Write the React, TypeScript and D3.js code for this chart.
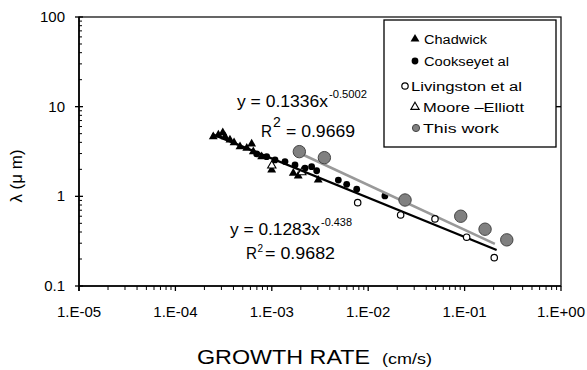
import React from 'react';
import * as d3 from 'd3';

// growth rate (cm/s), lambda (um)
const chadwick: [number, number][] = [
  [2.47e-4, 4.63], [2.79e-4, 4.84], [3.1e-4, 5.13], [3.27e-4, 4.63], [3.68e-4, 4.25],
  [4.06e-4, 3.97], [4.68e-4, 3.58], [5.5e-4, 3.44], [6.18e-4, 3.84], [6.43e-4, 3.15],
  [7.85e-4, 2.77], [9.97e-4, 1.97], [1.67e-3, 1.81], [1.88e-3, 1.69], [3.03e-3, 1.52],
];
const cooksey: [number, number][] = [
  [6.97e-4, 2.97], [8.85e-4, 2.77], [1.08e-3, 2.55], [1.37e-3, 2.44], [1.74e-3, 2.24],
  [2.21e-3, 2.06], [2.59e-3, 2.14], [2.92e-3, 1.93], [4.9e-3, 1.52], [5.98e-3, 1.36],
  [7.6e-3, 1.2], [0.0149, 1.01],
];
const livingston: [number, number][] = [
  [7.78e-3, 0.85], [0.0217, 0.62], [0.0493, 0.56], [0.105, 0.35], [0.203, 0.207],
];
const mooreElliott: [number, number][] = [[1.0e-3, 2.2], [2.05e-3, 1.85]];
const thisWork: [number, number][] = [
  [1.93e-3, 3.15], [3.51e-3, 2.7], [0.0241, 0.91], [0.0912, 0.6], [0.163, 0.43], [0.274, 0.327],
];

// power-law fits: [coefficient, exponent, xStart, xEnd]
const fitAll = [0.1283, -0.438, 2.4e-4, 0.215];
const fitThis = [0.1336, -0.5002, 1.93e-3, 0.206];

const xTickValues = [1e-5, 1e-4, 1e-3, 1e-2, 1e-1, 1];
const xTickLabels = ['1.E-05', '1.E-04', '1.E-03', '1.E-02', '1.E-01', '1.E+00'];
const yTickValues = [0.1, 1, 10, 100];
const yTickLabels = ['0.1', '1', '10', '100'];

const legendLabels = ['Chadwick', 'Cookseyet al', 'Livingston et al', 'Moore \u2013Elliott', 'This work'];

const FONT = "'Liberation Sans', Arial, Helvetica, sans-serif";

export default function App() {
  const W = 587, H = 370;
  const L = 79, R = 561, T = 17, B = 286;
  const x = d3.scaleLog().domain([1e-5, 1]).range([L, R]);
  const y = d3.scaleLog().domain([0.1, 100]).range([B, T]);
  const triFilled = d3.symbol().type(d3.symbolTriangle).size(34)() as string;
  const triOpen = d3.symbol().type(d3.symbolTriangle).size(30)() as string;

  const minorX: number[] = [];
  for (let e = -5; e < 0; e++) for (let m = 2; m <= 9; m++) minorX.push(m * Math.pow(10, e));
  const minorY: number[] = [];
  for (let e = -1; e < 2; e++) for (let m = 2; m <= 9; m++) minorY.push(m * Math.pow(10, e));

  const fitLine = (f: number[]) => {
    const pts: [number, number][] = [f[2], f[3]].map((v) => [x(v), y(f[0] * Math.pow(v, f[1]))]);
    return d3.line()(pts) as string;
  };

  const legendRows = [
    { y: 39, mx: 415, tx: 424, w: 63 },
    { y: 61, mx: 415, tx: 424, w: 85 },
    { y: 86, mx: 405, tx: 411, w: 111 },
    { y: 107, mx: 415, tx: 423, w: 101 },
    { y: 128, mx: 416, tx: 423, w: 76 },
  ];

  const marker = (i: number, cx: number, cy: number, key: string, small: boolean) => {
    if (i === 0) return <path key={key} d={triFilled} transform={`translate(${cx},${cy})`} fill="#000" />;
    if (i === 1) return <circle key={key} cx={cx} cy={cy} r={3.4} fill="#000" />;
    if (i === 2) return <circle key={key} cx={cx} cy={cy} r={3.2} fill="#fff" stroke="#000" strokeWidth={1.2} />;
    if (i === 3) return <path key={key} d={triOpen} transform={`translate(${cx},${cy})`} fill="#fff" stroke="#000" strokeWidth={1.1} />;
    return <circle key={key} cx={cx} cy={cy} r={small ? 3.6 : 6.2} fill="#808080" stroke="#444" strokeWidth={1} />;
  };

  return (
    <svg width={W} height={H} style={{ position: 'absolute', left: 0, top: 0, background: '#fff' }} fontFamily={FONT}>
      <rect x={0} y={0} width={W} height={H} fill="#fff" />
      {/* plot frame */}
      <rect x={L} y={T} width={R - L} height={B - T} fill="none" stroke="#000" strokeWidth={1.2} />
      <line x1={L} x2={L} y1={T} y2={B + 5} stroke="#000" strokeWidth={1.6} />
      <line x1={L} x2={R} y1={B} y2={B} stroke="#000" strokeWidth={1.6} />
      <line x1={R - 5} x2={R} y1={y(10)} y2={y(10)} stroke="#000" strokeWidth={1.4} />

      {/* x ticks */}
      {xTickValues.map((v) => (
        <line key={'xm' + v} x1={x(v)} x2={x(v)} y1={B} y2={B + 5} stroke="#000" strokeWidth={1.3} />
      ))}
      {minorX.map((v) => (
        <line key={'xn' + v} x1={x(v)} x2={x(v)} y1={B} y2={B + 4} stroke="#000" strokeWidth={1} />
      ))}
      {xTickValues.map((v, i) => (
        <text key={'xl' + v} x={x(v)} y={317} fontSize={15} textAnchor="middle" fill="#000">{xTickLabels[i]}</text>
      ))}

      {/* y ticks */}
      {yTickValues.map((v) => (
        <line key={'ym' + v} x1={L - 4} x2={L + 4} y1={y(v)} y2={y(v)} stroke="#000" strokeWidth={1.3} />
      ))}
      {minorY.map((v) => (
        <line key={'yn' + v} x1={L} x2={L + 3} y1={y(v)} y2={y(v)} stroke="#000" strokeWidth={1} />
      ))}
      {yTickValues.map((v, i) => (
        <text key={'yl' + v} x={65} y={y(v) + 5} fontSize={15} textAnchor="end" fill="#000">{yTickLabels[i]}</text>
      ))}

      {/* axis titles */}
      <text transform="translate(22,176) rotate(-90)" fontSize={17} textAnchor="middle" fill="#000">{'\u03bb  (\u03bc m)'}</text>
      <text x={197} y={364} fontSize={21} textLength={173} lengthAdjust="spacingAndGlyphs" fill="#000">GROWTH RATE</text>
      <text x={382} y={364} fontSize={15} textLength={50} lengthAdjust="spacingAndGlyphs" fill="#000">(cm/s)</text>

      {/* data: black markers */}
      {chadwick.map((d, i) => marker(0, x(d[0]), y(d[1]), 'c' + i, false))}
      {cooksey.map((d, i) => marker(1, x(d[0]), y(d[1]), 'k' + i, false))}
      {mooreElliott.map((d, i) => marker(3, x(d[0]), y(d[1]), 'm' + i, false))}

      {/* fit lines */}
      <path d={fitLine(fitAll)} stroke="#000" strokeWidth={2.2} fill="none" />
      <path d={fitLine(fitThis)} stroke="#999" strokeWidth={2.6} fill="none" />

      {livingston.map((d, i) => marker(2, x(d[0]), y(d[1]), 'l' + i, false))}
      {thisWork.map((d, i) => marker(4, x(d[0]), y(d[1]), 't' + i, false))}

      {/* equations */}
      <text x={237} y={107} fontSize={16} textLength={91} lengthAdjust="spacingAndGlyphs" fill="#000">y = 0.1336x</text>
      <text x={329} y={98} fontSize={10} textLength={38} lengthAdjust="spacingAndGlyphs" fill="#000">-0.5002</text>
      <text x={261} y={137} fontSize={17} textLength={11} lengthAdjust="spacingAndGlyphs" fill="#000">R</text>
      <text x={273} y={127} fontSize={14} fill="#000">2</text>
      <text x={286} y={137} fontSize={17} textLength={69} lengthAdjust="spacingAndGlyphs" fill="#000">= 0.9669</text>

      <text x={230} y={235} fontSize={16} textLength={90} lengthAdjust="spacingAndGlyphs" fill="#000">y = 0.1283x</text>
      <text x={321} y={226} fontSize={10} textLength={31} lengthAdjust="spacingAndGlyphs" fill="#000">-0.438</text>
      <text x={246} y={259} fontSize={16} textLength={11} lengthAdjust="spacingAndGlyphs" fill="#000">R</text>
      <text x={257.5} y={252} fontSize={10} fill="#000">2</text>
      <text x={265} y={259} fontSize={16} textLength={70} lengthAdjust="spacingAndGlyphs" fill="#000">= 0.9682</text>

      {/* legend */}
      <rect x={384} y={20} width={172} height={127} fill="#fff" stroke="#000" strokeWidth={1.3} />
      {legendRows.map((r, i) => (
        <g key={'lg' + i}>
          {marker(i, r.mx, r.y, 'lm' + i, true)}
          <text x={r.tx} y={r.y + 5} fontSize={12.5} textLength={r.w} lengthAdjust="spacingAndGlyphs" fill="#000">{legendLabels[i]}</text>
        </g>
      ))}
    </svg>
  );
}
